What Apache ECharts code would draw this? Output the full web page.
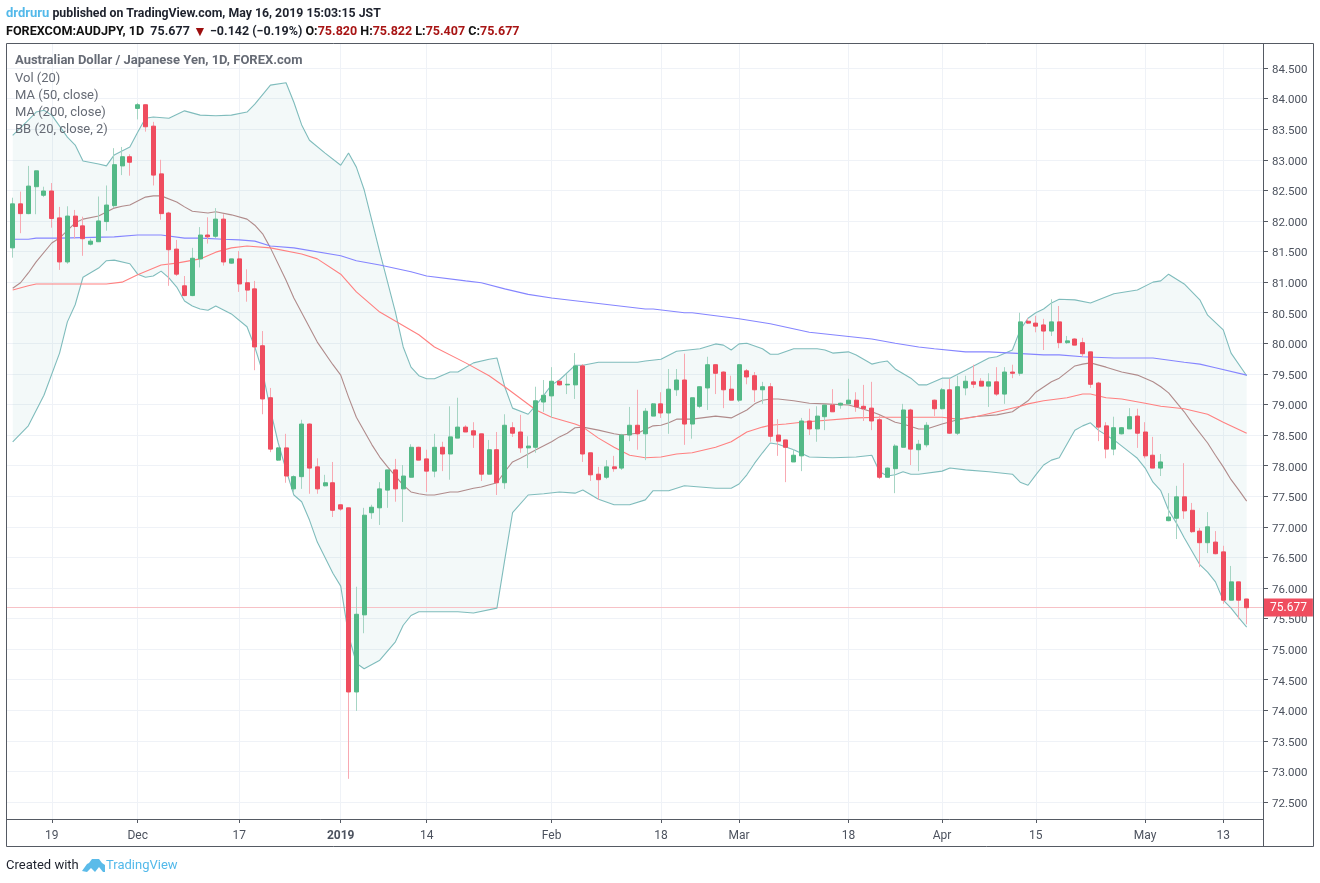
<!DOCTYPE html>
<html><head><meta charset="utf-8">
<style>html,body{margin:0;padding:0;background:#fff}#c{width:1320px;height:883px}</style>
<script src="https://cdn.jsdelivr.net/npm/echarts@6/dist/echarts.min.js"></script>
</head><body><div id="c"></div>
<script>
const opens=[81.56,82.28,82.12,82.56,82.42,82.49,82.05,81.33,82.08,81.92,81.62,81.66,81.99,82.25,82.90,83.05,83.84,83.90,83.55,82.77,82.13,81.54,80.94,80.78,81.38,81.77,81.75,82.03,81.31,81.38,80.99,80.89,79.96,79.11,78.09,78.29,77.62,77.82,78.68,77.98,77.67,77.72,77.36,77.31,74.30,75.56,77.23,77.31,77.60,77.93,77.62,77.81,78.30,78.11,77.91,78.30,78.19,78.45,78.63,78.57,78.52,77.86,78.26,77.72,78.62,78.55,78.29,78.30,79.04,79.14,79.38,79.32,79.32,79.63,78.21,77.86,77.81,77.98,77.96,78.50,78.66,78.52,78.81,79.01,78.86,79.24,79.40,78.68,78.97,79.27,79.65,79.53,79.25,79.07,79.55,79.47,79.24,79.29,78.50,78.42,78.06,78.16,78.73,78.60,78.80,78.99,78.99,79.01,79.07,78.97,78.94,78.75,77.81,77.95,78.30,78.91,78.26,78.34,79.07,78.93,79.24,78.53,79.27,79.37,79.38,79.30,79.37,79.17,79.53,79.51,80.36,80.33,80.30,80.20,80.35,80.01,80.07,80.01,79.86,79.35,78.65,78.27,78.52,78.60,78.81,78.55,78.17,77.96,77.10,77.14,77.49,77.27,76.93,76.74,76.75,76.59,75.80,76.10,75.82];
const closes=[82.28,82.12,82.57,82.82,82.49,82.04,81.33,82.08,81.91,81.71,81.67,82.00,82.26,82.92,83.05,82.96,83.90,83.54,82.75,82.12,81.53,81.13,80.78,81.39,81.77,81.74,82.03,81.33,81.38,80.97,80.87,79.94,79.09,78.27,78.29,77.83,77.82,78.68,77.96,77.62,77.72,77.27,77.29,74.30,75.57,77.19,77.32,77.62,77.93,77.62,77.83,78.30,78.09,77.91,78.30,78.19,78.47,78.63,78.55,78.50,77.86,78.26,77.72,78.66,78.53,78.29,78.32,79.06,79.15,79.38,79.32,79.33,79.63,78.19,77.85,77.77,77.98,77.95,78.50,78.66,78.52,78.89,79.01,78.86,79.25,79.40,78.68,79.11,79.29,79.65,79.51,79.24,79.07,79.65,79.45,79.24,79.29,78.48,78.40,78.30,78.17,78.73,78.60,78.81,78.99,78.88,79.02,79.07,78.96,78.93,78.73,77.81,77.96,78.32,78.91,78.27,78.35,78.66,78.93,79.24,78.53,79.29,79.38,79.33,79.30,79.37,79.17,79.53,79.51,80.35,80.33,80.28,80.20,80.35,80.01,80.04,79.97,79.83,79.33,78.63,78.27,78.62,78.62,78.80,78.53,78.16,77.96,78.06,77.16,77.49,77.26,76.92,76.74,77.00,76.56,75.80,76.10,75.80,75.677];
const highs=[82.38,82.48,82.90,82.82,82.56,82.62,82.23,82.24,82.18,82.07,81.71,82.40,82.58,83.19,83.21,83.09,83.93,83.90,83.62,83.00,82.15,81.69,81.10,81.56,81.90,82.06,82.21,82.11,81.38,81.51,81.21,81.02,80.20,79.27,78.30,78.52,77.84,78.75,78.69,78.12,77.85,78.06,77.36,77.31,76.02,77.31,77.36,77.73,77.93,78.11,78.01,78.35,78.31,78.26,78.52,78.39,78.97,79.11,78.66,78.71,78.52,78.42,78.55,78.84,78.71,78.83,78.48,79.29,79.40,79.61,79.39,79.50,79.84,79.66,78.21,77.98,78.09,78.16,78.52,78.96,79.24,78.94,79.02,79.20,79.58,79.58,79.83,79.11,79.29,79.78,79.65,79.54,79.47,79.65,79.58,79.53,79.37,79.35,78.76,78.42,78.27,78.78,78.93,78.97,79.00,79.25,79.03,79.42,79.20,79.32,79.37,78.83,77.97,78.35,79.01,78.93,78.42,78.71,79.08,79.27,79.42,79.47,79.47,79.65,79.43,79.51,79.61,79.61,79.65,80.50,80.41,80.45,80.40,80.72,80.61,80.12,80.08,80.09,79.86,79.37,78.71,78.80,78.63,78.94,78.93,78.71,78.47,78.19,77.55,77.67,78.04,77.39,76.98,77.24,76.93,76.69,76.36,76.10,75.822];
const lows=[81.40,81.80,82.11,82.11,82.39,81.89,81.20,81.30,81.71,81.43,81.60,81.66,81.84,82.21,82.75,82.74,83.66,83.46,82.58,82.02,80.94,81.10,80.77,80.77,81.24,81.63,81.72,81.27,81.30,80.84,80.68,79.56,78.84,78.22,78.08,77.72,77.55,77.62,77.54,77.54,77.66,77.16,77.26,72.88,73.99,75.26,77.13,77.03,77.31,77.41,77.08,77.81,78.09,77.57,77.81,77.91,77.77,78.45,78.55,78.29,77.75,77.86,77.52,77.62,78.47,78.21,77.96,78.21,78.88,78.78,79.31,79.17,79.09,78.06,77.75,77.44,77.78,77.90,77.93,78.40,78.26,78.09,78.81,78.78,78.52,79.14,78.34,78.44,78.94,78.91,79.17,78.94,79.07,79.04,79.33,79.04,79.01,78.39,78.16,77.73,78.06,77.91,78.50,78.39,78.58,78.88,78.93,78.99,78.88,78.73,78.58,77.78,77.81,77.55,78.30,78.01,77.91,78.30,78.81,78.92,78.52,78.50,79.15,79.27,79.30,78.96,79.14,79.01,79.43,79.47,80.32,80.18,79.89,80.12,79.92,79.99,79.97,79.78,79.27,78.40,78.12,78.17,78.51,78.60,78.29,78.12,77.96,77.83,77.09,76.80,77.13,76.90,76.34,76.57,76.55,75.74,75.80,75.49,75.407];
const bbUpper=[[0,83.40],[2,83.65],[3,83.78],[4,83.81],[5,83.73],[7,83.37],[8,83.24],[9,82.98],[11,82.93],[12,82.90],[13,83.08],[15,83.21],[16,83.45],[17,83.68],[18,83.70],[20,83.68],[22,83.80],[24,83.73],[26,83.72],[28,83.73],[30,83.78],[31,83.91],[33,84.22],[35,84.26],[36,83.94],[37,83.57],[38,83.32],[40,83.11],[42,82.91],[43,83.11],[44,82.88],[45,82.51],[47,81.49],[49,80.51],[50,79.94],[51,79.61],[52,79.47],[53,79.42],[54,79.42],[56,79.53],[57,79.53],[59,79.68],[61,79.74],[62,79.76],[63,79.29],[64,78.94],[66,78.84],[67,78.99],[68,79.15],[69,79.32],[70,79.40],[72,79.64],[73,79.64],[75,79.69],[80,79.69],[81,79.71],[83,79.74],[85,79.87],[88,79.91],[90,79.99],[91,79.97],[92,79.89],[93,79.99],[94,80.00],[96,79.91],[97,79.82],[98,79.82],[100,79.91],[103,79.91],[104,79.89],[105,79.84],[107,79.86],[108,79.81],[110,79.66],[111,79.69],[112,79.71],[113,79.58],[115,79.43],[116,79.32],[117,79.32],[119,79.43],[120,79.43],[122,79.56],[125,79.76],[126,79.78],[128,79.89],[129,80.22],[130,80.41],[131,80.50],[132,80.56],[133,80.66],[134,80.72],[136,80.71],[138,80.66],[141,80.81],[143,80.85],[144,80.87],[146,81.00],[147,81.02],[148,81.13],[150,80.97],[152,80.71],[153,80.46],[155,80.22],[156,79.84],[158,79.47]];
const bbLower=[[0,78.39],[2,78.65],[4,79.15],[6,79.84],[7,80.35],[8,80.63],[9,81.08],[11,81.23],[12,81.35],[13,81.36],[15,81.30],[16,81.13],[17,81.08],[18,81.10],[19,81.18],[20,81.07],[21,80.92],[22,80.69],[23,80.61],[24,80.56],[25,80.54],[26,80.61],[28,80.48],[30,80.27],[31,79.94],[32,79.53],[33,78.91],[34,78.37],[35,77.93],[36,77.52],[37,77.41],[38,77.11],[39,76.75],[41,76.24],[42,76.03],[43,75.23],[44,74.77],[45,74.68],[47,74.82],[49,75.12],[50,75.39],[51,75.55],[52,75.61],[57,75.61],[59,75.59],[62,75.67],[63,76.46],[64,77.23],[66,77.52],[68,77.54],[70,77.57],[72,77.55],[73,77.60],[75,77.45],[77,77.36],[79,77.36],[81,77.44],[82,77.59],[84,77.59],[86,77.67],[88,77.65],[90,77.63],[92,77.63],[93,77.70],[94,77.85],[95,78.04],[96,78.21],[97,78.37],[98,78.35],[100,78.26],[102,78.14],[105,78.13],[108,78.14],[110,78.17],[111,77.90],[112,77.83],[113,77.85],[114,77.90],[115,77.86],[116,77.86],[119,77.91],[120,77.96],[122,77.93],[125,77.90],[128,77.86],[129,77.73],[130,77.68],[131,77.85],[132,78.01],[133,78.09],[134,78.13],[136,78.58],[137,78.65],[138,78.70],[139,78.58],[141,78.42],[143,78.22],[144,78.12],[145,77.96],[146,77.73],[147,77.59],[148,77.27],[149,77.06],[150,76.82],[152,76.38],[153,76.26],[154,76.10],[155,75.80],[156,75.67],[157,75.51],[158,75.36]];
const bbBasis=[[0,80.90],[1,80.99],[2,81.15],[3,81.33],[5,81.64],[6,81.72],[8,81.97],[9,82.03],[11,82.08],[13,82.21],[14,82.24],[15,82.26],[17,82.39],[18,82.41],[19,82.41],[21,82.31],[22,82.23],[23,82.16],[25,82.13],[26,82.15],[28,82.10],[30,82.03],[31,81.93],[32,81.79],[33,81.56],[35,81.03],[36,80.74],[39,80.02],[41,79.65],[42,79.48],[43,79.12],[44,78.79],[46,78.34],[47,78.14],[48,77.98],[50,77.68],[51,77.57],[52,77.54],[53,77.52],[54,77.52],[56,77.57],[57,77.57],[59,77.63],[60,77.65],[62,77.72],[63,77.90],[64,78.06],[65,78.12],[67,78.26],[69,78.39],[70,78.47],[71,78.53],[72,78.62],[73,78.63],[75,78.58],[77,78.52],[78,78.50],[80,78.53],[82,78.65],[83,78.66],[84,78.70],[85,78.76],[87,78.76],[90,78.81],[92,78.78],[94,78.91],[95,79.01],[96,79.07],[97,79.09],[98,79.09],[100,79.06],[102,79.02],[104,79.01],[107,78.99],[108,78.96],[110,78.88],[111,78.83],[113,78.71],[114,78.68],[116,78.60],[117,78.60],[119,78.68],[121,78.75],[123,78.80],[126,78.83],[128,78.88],[129,78.97],[130,79.06],[131,79.20],[133,79.37],[134,79.43],[136,79.63],[137,79.66],[138,79.68],[140,79.61],[142,79.53],[144,79.48],[146,79.37],[147,79.29],[148,79.19],[150,78.88],[151,78.70],[153,78.37],[154,78.17],[155,77.98],[156,77.77],[157,77.60],[158,77.42]];
const ma200=[[0,81.70],[2,81.70],[3,81.72],[6,81.72],[13,81.74],[16,81.77],[19,81.77],[22,81.72],[24,81.72],[27,81.70],[29,81.69],[31,81.67],[33,81.59],[36,81.56],[42,81.43],[44,81.35],[47,81.28],[51,81.17],[53,81.10],[58,81.02],[60,80.99],[63,80.89],[66,80.80],[69,80.74],[81,80.56],[82,80.56],[86,80.50],[87,80.50],[93,80.40],[97,80.32],[102,80.18],[110,80.07],[113,80.00],[116,79.94],[118,79.91],[122,79.86],[125,79.86],[128,79.84],[132,79.81],[134,79.81],[137,79.78],[141,79.76],[146,79.76],[150,79.69],[152,79.66],[154,79.60],[158,79.48]];
const ma50=[[0,80.87],[2,80.94],[3,80.97],[12,80.97],[14,81.00],[16,81.12],[19,81.28],[21,81.31],[24,81.38],[26,81.49],[28,81.56],[30,81.59],[33,81.56],[37,81.46],[39,81.38],[42,81.13],[44,80.84],[47,80.51],[52,80.14],[54,79.94],[58,79.68],[61,79.47],[63,79.29],[67,78.91],[69,78.79],[72,78.68],[73,78.63],[75,78.45],[77,78.30],[79,78.17],[81,78.13],[83,78.14],[85,78.19],[87,78.21],[90,78.30],[92,78.39],[94,78.55],[96,78.63],[97,78.66],[99,78.68],[101,78.71],[108,78.78],[111,78.79],[119,78.79],[121,78.76],[123,78.79],[127,78.91],[129,78.97],[130,79.01],[132,79.06],[135,79.11],[137,79.17],[138,79.17],[140,79.11],[142,79.09],[145,79.02],[147,78.97],[150,78.93],[153,78.84],[155,78.71],[158,78.53]];
const tickIndex=[5,16,29,42,53,69,83,93,107,119,131,145,155];
const tickText=['19','Dec','17','2019','14','Feb','18','Mar','18','Apr','15','May','13'];
const priceTicks=[72.5,73,73.5,74,74.5,75,75.5,76,76.5,77,77.5,78,78.5,79,79.5,80,80.5,81,81.5,82,82.5,83,83.5,84,84.5];
const lastClose=75.677;
const categories=[];for(let i=0;i<160;i++){const k=tickIndex.indexOf(i);categories.push(k>=0?tickText[k]:'');}

const font='Roboto,"Open Sans",sans-serif';
const GRID='#eff2f7', INK='#4c525e', AX='#555a63', UP='#53b987', DOWN='#ef4d5f', UPW='#a6d5c4', DOWNW='#f8a9b2';
const yMin=72.223,yMax=84.893;
const isTick=(i)=>tickIndex.indexOf(i)>=0;
const ohlc=opens.map((o,i)=>[o,closes[i],lows[i],highs[i]]);
const bodies=opens.map((o,i)=>[o,closes[i],Math.min(o,closes[i]),Math.max(o,closes[i])]);

const lineS=(name,data,color,z)=>({name,type:'line',xAxisIndex:1,yAxisIndex:1,data,showSymbol:false,symbol:'none',smooth:false,connectNulls:true,z,silent:true,lineStyle:{color,width:1.1,opacity:1}});

const chart=echarts.init(document.getElementById('c'),null,{renderer:'canvas'});
const legendStyle={fontFamily:font,fontSize:13,fontWeight:'normal',color:'#666b75'};
const option={
 animation:false,backgroundColor:'#fff',
 textStyle:{fontFamily:font},
 title:[
  {left:6,top:7,padding:0,text:'{a|drdruru}{b| published on TradingView.com, May 16, 2019 15:03:15 JST}',textStyle:{rich:{a:{fontFamily:font,fontSize:13,color:'#53b9ea'},b:{fontFamily:font,fontSize:12.3,color:'#1e222d'}}}},
  {left:6,top:25,padding:0,text:'{k|FOREXCOM:AUDJPY, 1D}{b|  75.677 }{d|▼}{b| −0.142 (−0.19%) }{k|O:}{r|75.820 }{k|H:}{r|75.822 }{k|L:}{r|75.407 }{k|C:}{r|75.677}',textStyle:{rich:{k:{fontFamily:font,fontSize:12.6,fontWeight:'bold',color:'#111'},b:{fontFamily:font,fontSize:12.5,color:'#1e222d'},d:{fontFamily:font,fontSize:14,color:'#9c0d0d'},r:{fontFamily:font,fontSize:12.5,color:'#a81414'}}}},
  {left:15,top:54,padding:0,text:'Australian Dollar / Japanese Yen, 1D, FOREX.com',textStyle:{fontFamily:font,fontSize:13,fontWeight:'bold',color:'#666b75'}},
  {left:15,top:72,padding:0,text:'Vol (20)',textStyle:legendStyle},
  {left:15,top:89,padding:0,text:'MA (50, close)',textStyle:legendStyle},
  {left:15,top:106,padding:0,text:'MA (200, close)',textStyle:legendStyle},
  {left:15,top:123,padding:0,text:'BB (20, close, 2)',textStyle:legendStyle},
  {left:6,top:859,padding:0,text:'Created with',textStyle:{fontFamily:font,fontSize:13,fontWeight:'normal',color:'#1e222d'}},
  {left:106,top:859,padding:0,text:'TradingView',textStyle:{fontFamily:font,fontSize:13,fontWeight:'normal',color:'#53b9ea'}}
 ],
 grid:[
  {left:7,top:44,width:1256,height:775,containLabel:false},
  {left:8.8,top:44,width:1249.6,height:775,containLabel:false}
 ],
 xAxis:[
  {type:'category',gridIndex:0,data:['',''],axisLine:{show:true,lineStyle:{color:AX}},axisTick:{show:false},axisLabel:{show:false},splitLine:{show:false}},
  {type:'category',gridIndex:1,data:categories,boundaryGap:true,axisLine:{show:false},
   axisTick:{show:true,alignWithLabel:true,length:4,interval:(i)=>isTick(i),lineStyle:{color:AX}},
   splitLine:{show:true,alignWithLabel:true,interval:(i)=>isTick(i),lineStyle:{color:GRID,width:1}},
   axisLabel:{show:true,interval:(i)=>isTick(i),margin:11,fontFamily:font,fontSize:12,color:INK,hideOverlap:false,
     formatter:(v)=>v==='2019'?'{y|2019}':v,rich:{y:{fontFamily:font,fontSize:12,fontWeight:'bold',color:INK}}}}
 ],
 yAxis:[
  {type:'value',gridIndex:0,position:'right',min:yMin,max:yMax,
   axisLine:{show:true,lineStyle:{color:AX}},
   axisTick:{show:true,length:5,customValues:priceTicks,lineStyle:{color:AX}},
   splitLine:{show:true,customValues:priceTicks,lineStyle:{color:GRID,width:1}},
   axisLabel:{show:true,customValues:priceTicks,margin:9,color:INK,formatter:(v)=>'{p|'+v.toFixed(3)+'}',
     rich:{p:{fontFamily:font,fontSize:11.5,color:INK,padding:[4,0,0,0]}}}},
  {type:'value',gridIndex:1,position:'right',min:yMin,max:yMax,axisLine:{show:false},axisTick:{show:false},axisLabel:{show:false},splitLine:{show:false}}
 ],
 series:[
  {name:'Last price',type:'line',xAxisIndex:0,yAxisIndex:0,data:[],z:2,silent:true,symbol:'none',
   markLine:{silent:true,symbol:'none',animation:false,z:2,lineStyle:{color:'#f7c1c6',width:1,type:'solid'},
     label:{show:true,position:'end',distance:0,formatter:()=>lastClose.toFixed(3),fontFamily:font,fontSize:12,color:'#fff',backgroundColor:DOWN,padding:[3,6,3,7]},
     data:[{yAxis:lastClose}]}},
  {name:'BB fill',type:'custom',xAxisIndex:1,yAxisIndex:1,data:[[0,yMin]],z:1,silent:true,clip:false,
   renderItem:(p,api)=>{const pts=bbUpper.map(d=>api.coord(d)).concat(bbLower.slice().reverse().map(d=>api.coord(d)));
     return {type:'polygon',shape:{points:pts},style:{fill:'rgba(120,190,190,0.09)',stroke:null},silent:true};}},
  lineS('BB upper',bbUpper,'#7fbcbc',3),
  lineS('BB lower',bbLower,'#7fbcbc',3),
  lineS('BB basis',bbBasis,'#b08b8b',3),
  lineS('MA 50',ma50,'#ff8080',3),
  lineS('MA 200',ma200,'#8585ff',3),
  {name:'AUDJPY',type:'candlestick',xAxisIndex:1,yAxisIndex:1,data:ohlc,barWidth:1,z:4,silent:true,
   itemStyle:{color:UPW,color0:DOWNW,borderColor:UPW,borderColor0:DOWNW,borderWidth:1}},
  {name:'AUDJPY body',type:'candlestick',xAxisIndex:1,yAxisIndex:1,data:bodies,barWidth:4.5,z:5,silent:true,
   itemStyle:{color:UP,color0:DOWN,borderColor:UP,borderColor0:DOWN,borderWidth:1}}
 ],
 graphic:[
  {type:'rect',silent:true,z:20,shape:{x:6.5,y:43.5,width:1307,height:803},style:{fill:null,stroke:AX,lineWidth:1}},
  {type:'line',silent:true,z:20,shape:{x1:1263.5,y1:44,x2:1263.5,y2:846},style:{stroke:AX,lineWidth:1}},
  {type:'polygon',silent:true,z:20,shape:{points:[[82,871],[87,864],[89,863],[92,859],[99,859],[102,863],[105,865],[105,872],[103,872],[99,867],[95,872],[91,868],[87,872]]},style:{fill:'#5bbbe9'}}
 ]
};
chart.setOption(option);
</script></body></html>
